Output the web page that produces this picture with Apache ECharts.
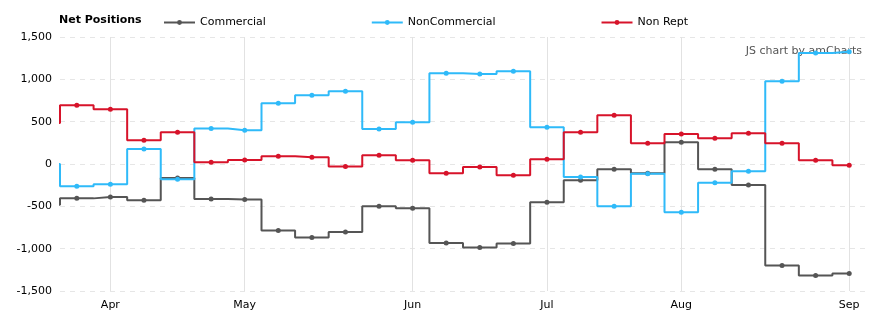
<!DOCTYPE html>
<html><head><meta charset="utf-8">
<script src="https://cdn.jsdelivr.net/npm/echarts@6/dist/echarts.min.js"></script>
<style>html,body{margin:0;padding:0;background:#fff}#c{width:880px;height:326px}</style>
</head><body><div id="c"></div>
<script>
// Weekly report dates; the first one is the week before the visible range (only its step edge shows)
const weeks = ['2017-03-21','2017-03-28','2017-04-04','2017-04-11','2017-04-18','2017-04-25',
  '2017-05-02','2017-05-09','2017-05-16','2017-05-23','2017-05-30',
  '2017-06-06','2017-06-13','2017-06-20','2017-06-27',
  '2017-07-04','2017-07-11','2017-07-18','2017-07-25',
  '2017-08-01','2017-08-08','2017-08-15','2017-08-22','2017-08-29','2017-09-05'];
const commercial = [-481,-406,-390,-429,-165,-414,-418,-784,-867,-804,-500,-524,-934,-985,-938,-453,-193,-63,-110,256,-63,-248,-1198,-1316,-1292];
const nonCommercial = [0,-264,-240,177,-181,418,398,717,812,859,414,492,1072,1064,1095,433,-154,-500,-114,-571,-221,-87,977,1312,1325];
const nonRept = [484,693,646,280,374,20,47,91,79,-30,102,43,-110,-35,-134,55,374,575,244,355,303,362,244,43,-16];
const monthNames = ['Jan','Feb','Mar','Apr','May','Jun','Jul','Aug','Sep','Oct','Nov','Dec'];
const yMin = -1500, yMax = 1500, yStep = 500;

const visibleWeeks = weeks.slice(1);
const monthStarts = [];
visibleWeeks.forEach((w, i) => {
  if (w.slice(5, 7) !== weeks[i].slice(5, 7)) monthStarts.push(i);
});
const toXY = arr => arr.map((v, k) => [k - 1, v]);

const FONT = 'DejaVu Sans';
const colors = ['#555555', '#2fbaf9', '#d7132a'];
const chart = echarts.init(document.getElementById('c'), null, {renderer: 'canvas'});

function lineSeries(name, data, color) {
  return {
    name, type: 'line', step: 'middle', xAxisIndex: 0, yAxisIndex: 0,
    data: toXY(data), symbol: 'circle', symbolSize: 5, showSymbol: true,
    lineStyle: {width: 2, color}, itemStyle: {color}, z: 3, clip: true,
    emphasis: {disabled: true}
  };
}

chart.setOption({
  animation: false,
  textStyle: {fontFamily: FONT},
  title: {
    text: 'Net Positions', left: 59, top: 15, padding: 0,
    textStyle: {fontFamily: FONT, fontSize: 11, fontWeight: 'bold', color: '#000'}
  },
  legend: {
    data: ['Commercial', 'NonCommercial', 'Non Rept'],
    left: 163, top: 17, padding: 0, itemWidth: 31, itemHeight: 6, itemGap: 105,
    textStyle: {fontFamily: FONT, fontSize: 11, color: '#000'}
  },
  graphic: [{
    type: 'text', right: 18, top: 46,
    style: {text: 'JS chart by amCharts', fill: '#555', font: '11px "DejaVu Sans"'}
  }],
  grid: {left: 60, right: 14, top: 37, bottom: 35},
  xAxis: [
    {type: 'value', min: -0.5, max: visibleWeeks.length - 0.5, show: false},
    {
      type: 'category', data: visibleWeeks, boundaryGap: true, position: 'bottom',
      axisLine: {show: false}, axisTick: {show: false}, splitLine: {show: false},
      axisLabel: {
        interval: i => monthStarts.includes(i),
        formatter: v => monthNames[+v.slice(5, 7) - 1],
        color: '#000', fontSize: 11, fontFamily: FONT, margin: 9
      }
    }
  ],
  yAxis: {
    type: 'value', min: yMin, max: yMax, interval: yStep,
    axisLine: {show: false}, axisTick: {show: false},
    axisLabel: {color: '#000', fontSize: 11, fontFamily: FONT, margin: 8,
      formatter: v => v.toLocaleString('en-US')},
    splitLine: {lineStyle: {color: '#e6e6e6', type: [5, 5], width: 1}}
  },
  series: [
    {
      type: 'line', data: [], xAxisIndex: 0, silent: true, z: 1,
      markLine: {
        silent: true, z: 1, zlevel: 0, symbol: ['none', 'none'], label: {show: false},
        lineStyle: {color: '#e2e2e2', type: 'solid', width: 1},
        emphasis: {disabled: true},
        data: monthStarts.map(i => ({xAxis: i}))
      }
    },
    lineSeries('Commercial', commercial, colors[0]),
    lineSeries('NonCommercial', nonCommercial, colors[1]),
    lineSeries('Non Rept', nonRept, colors[2])
  ]
});
</script></body></html>
